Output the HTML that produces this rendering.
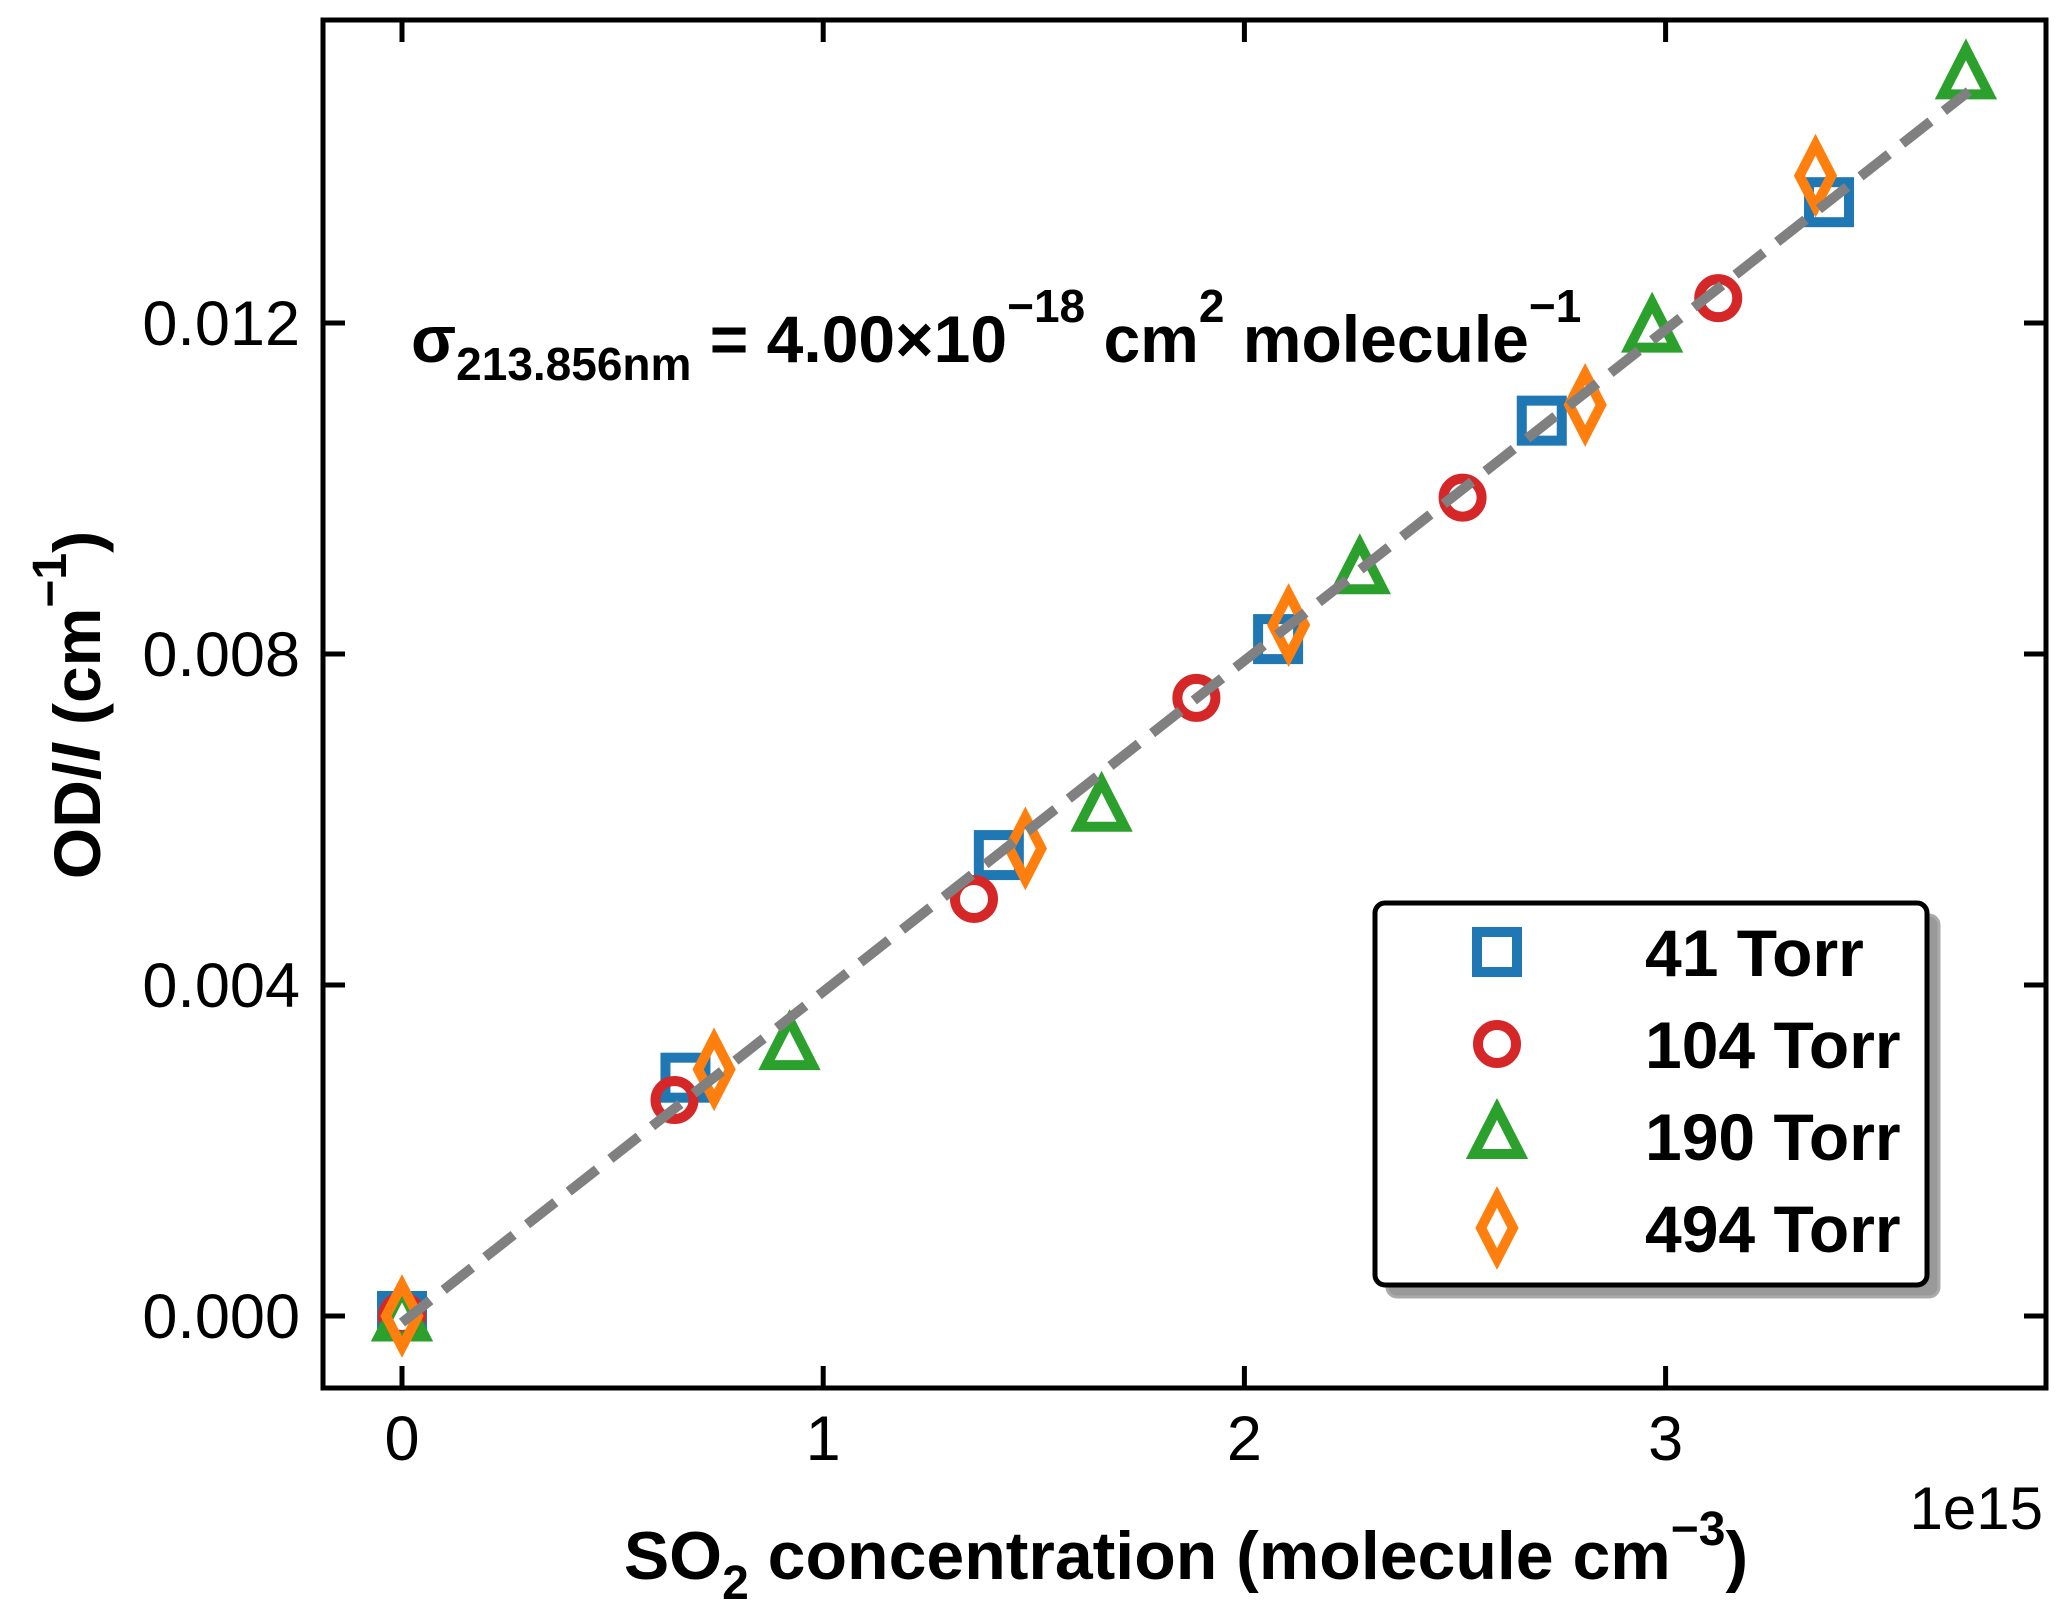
<!DOCTYPE html>
<html><head><meta charset="utf-8">
<style>
html,body{margin:0;padding:0;background:#fff;}
svg{display:block;font-family:"Liberation Sans",Arial,sans-serif;}
</style></head>
<body>
<svg id="chart" width="2067" height="1617" viewBox="0 0 2067 1617" xmlns="http://www.w3.org/2000/svg">
<rect x="0" y="0" width="2067" height="1617" fill="#fff"/>
<g id="marks"></g>
<g id="axes"></g>
<text x="411" y="362" font-size="66" font-weight="bold">σ<tspan font-size="46" dy="18">213.856nm</tspan><tspan dy="-18"> = 4.00×10</tspan><tspan font-size="46" dy="-40">−18</tspan><tspan dy="40"> cm</tspan><tspan font-size="46" dy="-40">2</tspan><tspan dy="40"> molecule</tspan><tspan font-size="46" dy="-40">−1</tspan></text>
<text transform="translate(100,705) rotate(-90)" text-anchor="middle" font-size="66" font-weight="bold">OD/<tspan font-style="italic">l</tspan> (cm<tspan font-size="48" dy="-34">−1</tspan><tspan dy="34">)</tspan></text>
<text x="1186" y="1579" text-anchor="middle" font-size="68" font-weight="bold">SO<tspan font-size="48" dy="20">2</tspan><tspan dy="-20"> concentration (molecule cm</tspan><tspan font-size="48" dy="-34">−3</tspan><tspan dy="34">)</tspan></text>
<text x="2043" y="1529" text-anchor="end" font-size="60">1e15</text>
<g id="legend"></g>
</svg>
<script>
const xTicks=[0,1,2,3];
const yTicks=[0,0.004,0.008,0.012];
const yTickLabels=["0.000","0.004","0.008","0.012"];
const seriesNames=["41 Torr","104 Torr","190 Torr","494 Torr"];
const x41=[0,0.673,1.417,2.08,2.706,3.388];
const y41=[0,0.00288,0.00557,0.00818,0.01082,0.01346];
const x104=[0,0.647,1.358,1.886,2.518,3.125];
const y104=[0,0.00261,0.00504,0.00747,0.00989,0.0123];
const x190=[0,0.92,1.661,2.274,2.968,3.713];
const y190=[-0.00003,0.00325,0.00613,0.009,0.01192,0.01498];
const x494=[0,0.741,1.48,2.105,2.809,3.356];
const y494=[0,0.00298,0.00565,0.00835,0.01101,0.01378];
const fitX=[0,3.72];
const fitSlope=0.004, fitIntercept=-0.00008;

const NS="http://www.w3.org/2000/svg";
const L=323,R=2046,T=20,B=1388;
function sx(v){return 402+v*421.2;}
function sy(v){return 1316-v/0.004*331;}
function mk(tag,attrs,parent){const e=document.createElementNS(NS,tag);for(const k in attrs)e.setAttribute(k,attrs[k]);parent.appendChild(e);return e;}
const marks=document.getElementById('marks'),axes=document.getElementById('axes'),legend=document.getElementById('legend');
const colors=["#1f77b4","#d62728","#2ca02c","#ff7f0e"];
const SW=10;
function marker(type,cx,cy,parent,col){
  let e;
  if(type===0){e=mk('rect',{x:cx-20,y:cy-20,width:40,height:40,fill:'none',stroke:col,'stroke-width':SW},parent);}
  else if(type===1){e=mk('circle',{cx:cx,cy:cy,r:19,fill:'none',stroke:col,'stroke-width':SW},parent);}
  else if(type===2){e=mk('polygon',{points:`${cx},${cy-27} ${cx+23},${cy+18} ${cx-23},${cy+18}`,fill:'none',stroke:col,'stroke-width':SW,'stroke-linejoin':'miter'},parent);}
  else {e=mk('polygon',{points:`${cx},${cy-31} ${cx+16},${cy} ${cx},${cy+31} ${cx-16},${cy}`,fill:'none',stroke:col,'stroke-width':SW,'stroke-linejoin':'miter'},parent);}
  return e;
}
const xs=[x41,x104,x190,x494], ys=[y41,y104,y190,y494];
const names=['series-41-torr','series-104-torr','series-190-torr','series-494-torr'];
for(let s=0;s<4;s++){
  const g=mk('g',{},marks);
  
  
  for(let i=0;i<xs[s].length;i++){
    const m=marker(s,sx(xs[s][i]),sy(ys[s][i]),g,colors[s]);
    
    
  }
}
const fit=mk('line',{x1:sx(fitX[0]),y1:sy(fitIntercept+fitSlope*fitX[0]),x2:sx(fitX[1]),y2:sy(fitIntercept+fitSlope*fitX[1]),stroke:'#808080','stroke-width':10,'stroke-dasharray':'36,17'},marks);


const fr=mk('rect',{x:L,y:T,width:R-L,height:B-T,fill:'none',stroke:'#000','stroke-width':5},axes);


xTicks.forEach(v=>{
  const x=sx(v);
  mk('line',{x1:x,y1:B,x2:x,y2:B-22,stroke:'#000','stroke-width':5},axes);
  mk('line',{x1:x,y1:T,x2:x,y2:T+22,stroke:'#000','stroke-width':5},axes);
  const t=mk('text',{x:x,y:1460,'text-anchor':'middle','font-size':63},axes);
  t.textContent=String(v);
  
  
});
yTicks.forEach((v,i)=>{
  const y=sy(v);
  mk('line',{x1:L,y1:y,x2:L+22,y2:y,stroke:'#000','stroke-width':5},axes);
  mk('line',{x1:R,y1:y,x2:R-22,y2:y,stroke:'#000','stroke-width':5},axes);
  const t=mk('text',{x:300,y:y+22,'text-anchor':'end','font-size':63},axes);
  t.textContent=yTickLabels[i];
  
  
});
mk('rect',{x:1387,y:915,width:552,height:382,rx:10,fill:'#999',stroke:'#aaa','stroke-width':3},legend);
const lb=mk('rect',{x:1375,y:903,width:552,height:382,rx:10,fill:'#fff',stroke:'#000','stroke-width':5},legend);


const rowsY=[952,1044,1136,1228];
for(let s=0;s<4;s++){
  const g=mk('g',{},legend);
  
  
  marker(s,1497,rowsY[s],g,colors[s]);
  const t=mk('text',{x:1645,y:rowsY[s]+24,'font-size':66,'font-weight':'bold'},g);
  t.textContent=seriesNames[s];
}
</script>
</body></html>
